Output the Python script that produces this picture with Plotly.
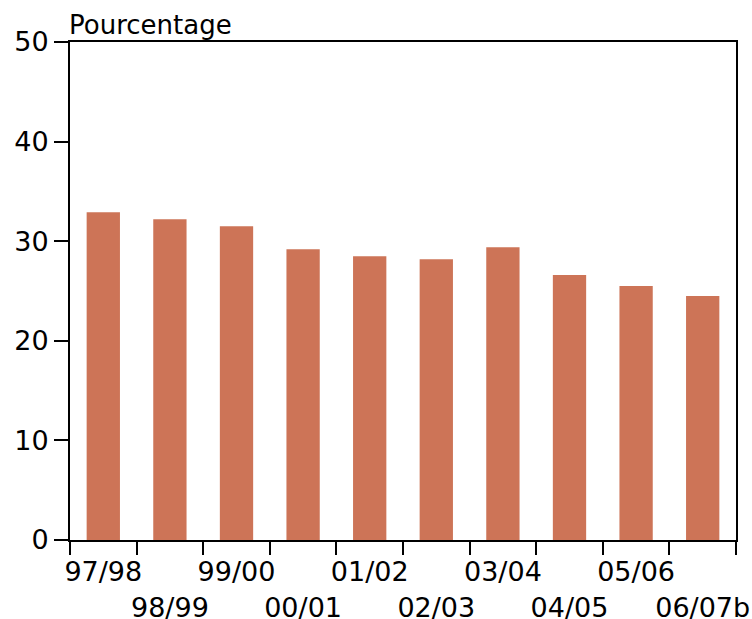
import plotly.graph_objects as go

categories = ["97/98", "98/99", "99/00", "00/01", "01/02", "02/03", "03/04", "04/05", "05/06", "06/07b"]
values = [32.9, 32.2, 31.5, 29.2, 28.5, 28.2, 29.4, 26.6, 25.5, 24.5]
y_ticks = [0, 10, 20, 30, 40, 50]

ticktext = [c if i % 2 == 0 else "<br>" + c for i, c in enumerate(categories)]

fig = go.Figure(go.Bar(x=categories, y=values, marker=dict(color="#CD7457", line=dict(width=0)), width=0.5))

font = "'DejaVu Sans', sans-serif"
fig.update_layout(
    width=752, height=619,
    margin=dict(l=70, r=16, t=42, b=79),
    paper_bgcolor="white", plot_bgcolor="white",
    showlegend=False,
    font=dict(family=font, size=27, color="black"),
    xaxis=dict(
        type="category", tickson="boundaries", tickmode="array",
        tickvals=categories, ticktext=ticktext, tickangle=0, automargin=False,
        ticks="outside", ticklen=13, tickwidth=2, tickcolor="black",
        ticklabelstandoff=7,
        showline=True, linewidth=2, linecolor="black", mirror=True,
        showgrid=False, range=[-0.5, 9.5],
    ),
    yaxis=dict(
        range=[0, 50], tickvals=y_ticks, automargin=False,
        ticks="outside", ticklen=14, tickwidth=2, tickcolor="black",
        showline=True, linewidth=2, linecolor="black", mirror=True,
        showgrid=False, zeroline=False,
    ),
    annotations=[dict(text="Pourcentage", x=0, y=1, xref="paper", yref="paper",
                      xanchor="left", yanchor="bottom", showarrow=False,
                      font=dict(size=26, family=font), yshift=0, xshift=-3)],
)
fig.write_html(
    "out.html",
    config={"displayModeBar": False},
    post_script="document.body.style.margin='0';document.body.style.overflow='hidden';",
)
